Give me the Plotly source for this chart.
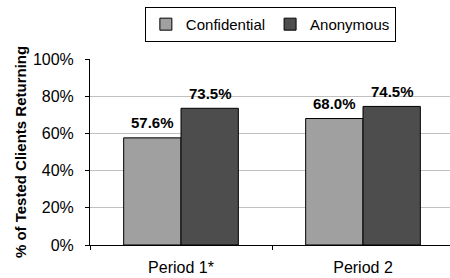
import plotly.graph_objects as go

categories = ["Period 1*", "Period 2"]
confidential = [57.6, 68.0]
anonymous = [73.5, 74.5]
series_names = ["Confidential", "Anonymous"]
y_ticks = [0, 20, 40, 60, 80, 100]
y_tick_labels = ["0%", "20%", "40%", "60%", "80%", "100%"]

FONT = "Liberation Sans, Arial, sans-serif"

fig = go.Figure()
fig.add_trace(go.Bar(x=categories, y=confidential, name=series_names[0],
                     marker=dict(color="#A0A0A0", line=dict(color="#000000", width=1))))
fig.add_trace(go.Bar(x=categories, y=anonymous, name=series_names[1],
                     marker=dict(color="#4D4D4D", line=dict(color="#000000", width=1))))

annotations = []
for i, cat in enumerate(categories):
    for vals, xs in ((confidential, -29), (anonymous, 29)):
        annotations.append(dict(x=cat, y=vals[i], xref="x", yref="y",
                                text="<b>%.1f%%</b>" % vals[i], showarrow=False,
                                xshift=xs, yshift=15,
                                font=dict(family=FONT, size=15, color="#000")))

fig.update_layout(
    width=450, height=278,
    margin=dict(l=90, r=0, t=59, b=33, autoexpand=False),
    paper_bgcolor="white", plot_bgcolor="white",
    barmode="group", bargap=0.37, bargroupgap=0,
    font=dict(family=FONT, size=16, color="#000"),
    showlegend=True,
    legend=dict(orientation="h", x=0.501, y=1.28, xanchor="center", yanchor="top",
                bordercolor="#000", borderwidth=1, font=dict(size=15, family=FONT),
                itemwidth=30, tracegroupgap=0),
    annotations=annotations,
    xaxis=dict(range=[-0.5, 1.478], showline=True, linecolor="#000", linewidth=1,
               ticks="outside", tickson="boundaries", ticklen=4, tickcolor="#000",
               tickfont=dict(size=16), ticklabelstandoff=8,
               showgrid=False, automargin=False),
    yaxis=dict(range=[0, 100], tickvals=y_ticks, ticktext=y_tick_labels,
               showline=True, linecolor="#000", linewidth=1,
               ticks="outside", ticklen=4, tickcolor="#000", ticklabelstandoff=8,
               tickfont=dict(size=16), showgrid=True, gridcolor="#C0C0C0", gridwidth=1,
               zeroline=False, automargin=False,
               title=dict(text="<b>% of Tested Clients Returning</b>", font=dict(size=15),
                          standoff=2)),
)

fig.write_html("out.html", config={"displayModeBar": False},
               post_script="document.body.style.margin='0';")
